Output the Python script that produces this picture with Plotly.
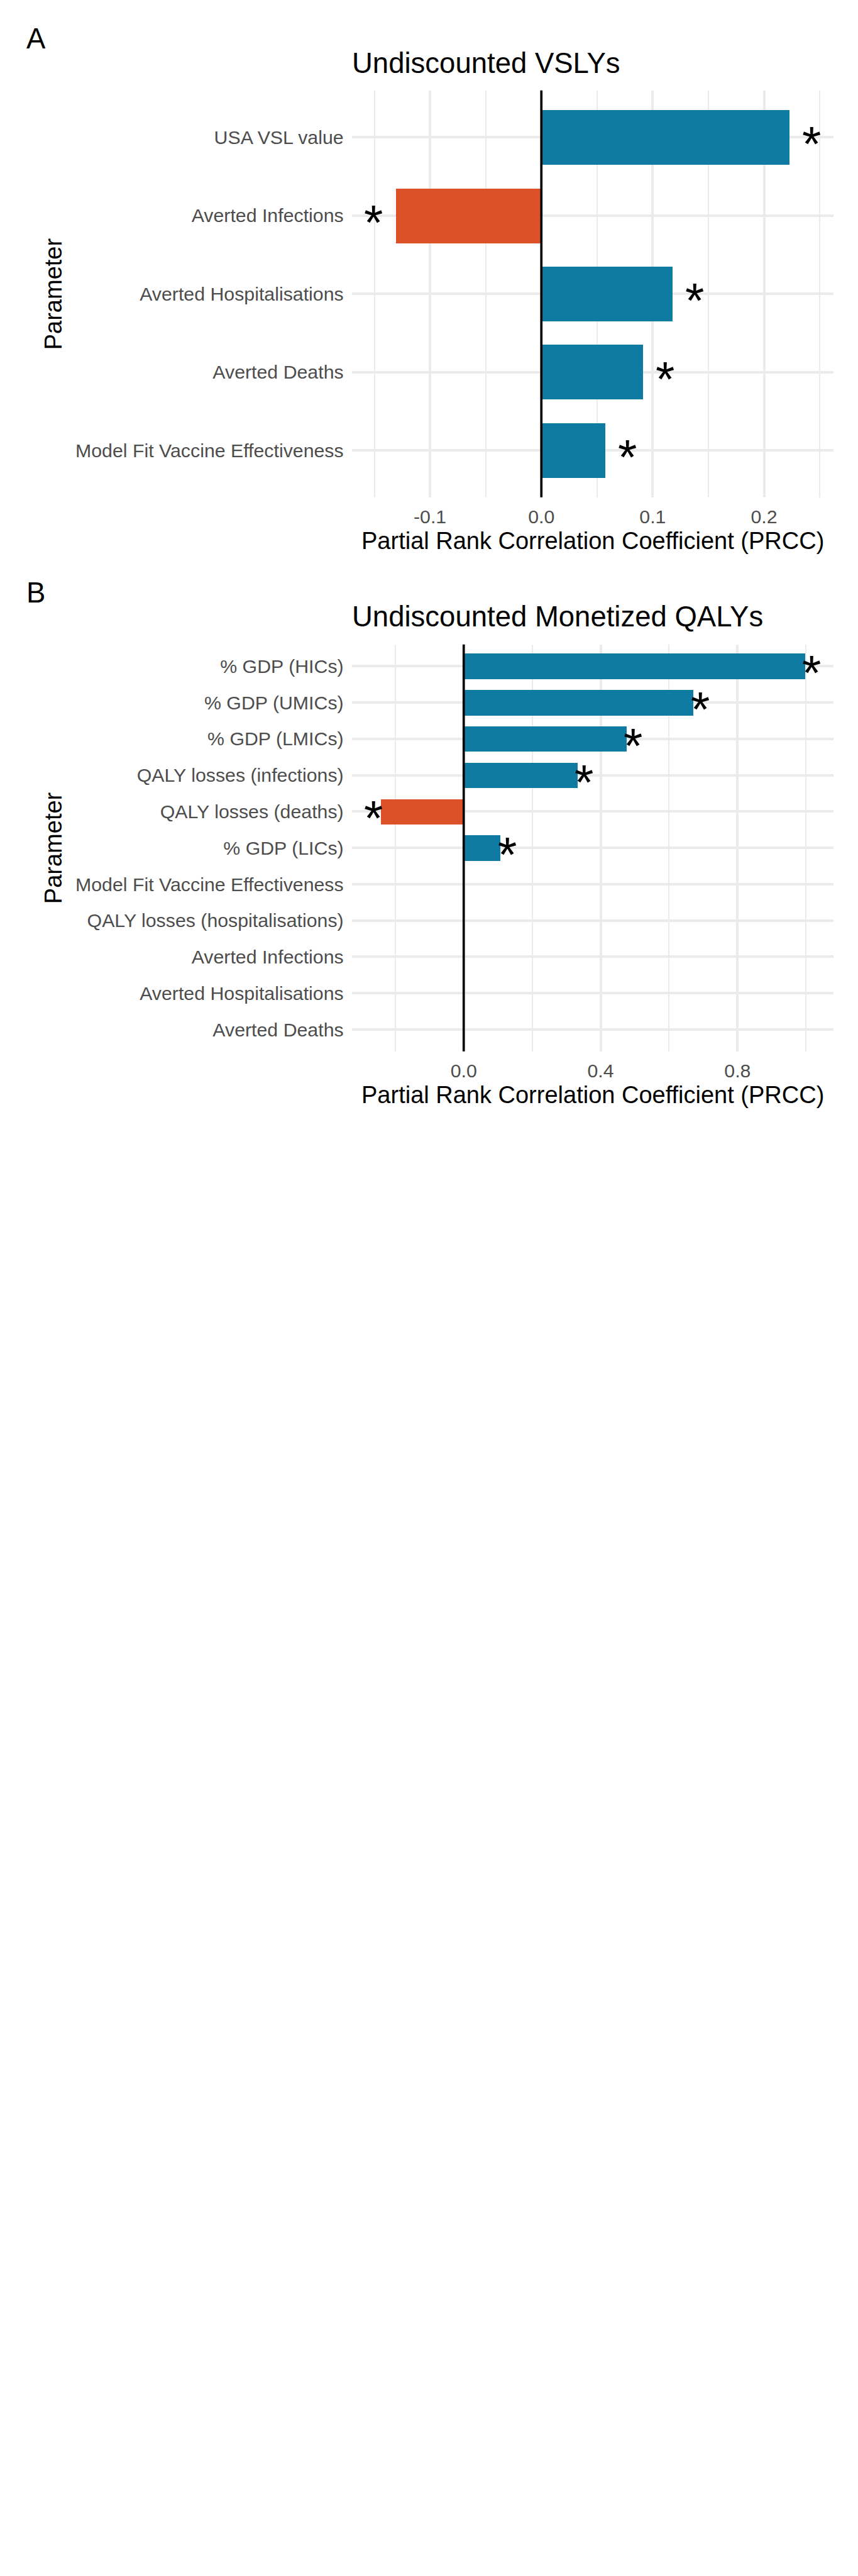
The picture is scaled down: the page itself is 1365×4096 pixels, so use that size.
import plotly.graph_objects as go

S = 0.91
W, H = 1365, 4096
FONT = "Liberation Sans, Arial, sans-serif"

# ---------------- data ----------------
a_title = "Undiscounted VSLYs"
a_params = ["USA VSL value", "Averted Infections", "Averted Hospitalisations",
            "Averted Deaths", "Model Fit Vaccine Effectiveness"]
a_prcc = [0.2226, -0.1306, 0.1178, 0.0912, 0.0574]
a_sig = [True, True, True, True, True]
a_xtickvals = [-0.1, 0.0, 0.1, 0.2]
a_xticktext = ["-0.1", "0.0", "0.1", "0.2"]

b_title = "Undiscounted Monetized QALYs"
b_params = ["% GDP (HICs)", "% GDP (UMICs)", "% GDP (LMICs)",
            "QALY losses (infections)", "QALY losses (deaths)", "% GDP (LICs)",
            "Model Fit Vaccine Effectiveness", "QALY losses (hospitalisations)",
            "Averted Infections", "Averted Hospitalisations", "Averted Deaths"]
b_prcc = [0.996, 0.670, 0.475, 0.332, -0.243, 0.107, -0.003, -0.001, 0.0, 0.0, 0.0]
b_sig = [True, True, True, True, True, True, False, False, False, False, False]
b_xtickvals = [0.0, 0.4, 0.8]
b_xticktext = ["0.0", "0.4", "0.8"]

x_title = "Partial Rank Correlation Coefficient (PRCC)"
y_title = "Parameter"
tags = ["A", "B"]

POS_COL = "#0F7BA2"
NEG_COL = "#DD5129"
GRID = "#EBEBEB"
STAR_OFF = 0.02

# ---------------- layout geometry (reference px, scaled) ----------------
def px(v):
    return v * S

def xf(v):
    return px(v) / W

def yf(v):
    return 1 - px(v) / H

PL, PR = 615, 1457
panels = [
    dict(top=158, bottom=869, tagy=67.5, titley=110, xty=945, minor=0.05,
         title=a_title, params=a_params, prcc=a_prcc, sig=a_sig,
         tv=a_xtickvals, tt=a_xticktext),
    dict(top=1126, bottom=1837, tagy=1035.5, titley=1077, xty=1913, minor=0.2,
         title=b_title, params=b_params, prcc=b_prcc, sig=b_sig,
         tv=b_xtickvals, tt=b_xticktext),
]

fig = go.Figure()
annotations = []
shapes = []

for i, p in enumerate(panels):
    k = "" if i == 0 else str(i + 1)
    xa, ya = "x" + k, "y" + k
    vals = p["prcc"]
    cols = [POS_COL if v >= 0 else NEG_COL for v in vals]
    fig.add_trace(go.Bar(
        x=vals, y=p["params"], orientation="h", width=0.7,
        marker=dict(color=cols, line=dict(width=0)),
        xaxis=xa, yaxis=ya, showlegend=False, hoverinfo="x+y"))

    star_x = [v + (STAR_OFF if v >= 0 else -STAR_OFF)
              for v, s in zip(vals, p["sig"]) if s]
    star_y = [c for c, s in zip(p["params"], p["sig"]) if s]
    for sx, sy in zip(star_x, star_y):
        annotations.append(dict(
            x=sx, y=sy, xref=xa, yref=ya, text="*", showarrow=False,
            xanchor="center", yanchor="middle", yshift=-11,
            font=dict(family=FONT, size=78, color="black")))

    pts = list(vals) + star_x
    lo, hi = min(pts), max(pts)
    pad = 0.05 * (hi - lo)
    n = len(p["params"])

    xaxis = dict(
        domain=[xf(PL), xf(PR)], anchor=ya, range=[lo - pad, hi + pad],
        tickmode="array", tickvals=p["tv"], ticktext=p["tt"],
        showgrid=True, gridcolor=GRID, gridwidth=px(4),
        zeroline=False, showline=False, ticks="",
        tickfont=dict(family=FONT, size=30.3, color="#4D4D4D"),
        ticklabelstandoff=10,
        minor=dict(dtick=p["minor"], tick0=0, showgrid=True,
                   gridcolor=GRID, gridwidth=px(2), ticks=""),
        fixedrange=True)
    yaxis = dict(
        domain=[yf(p["bottom"]), yf(p["top"])], anchor=xa,
        type="category", categoryorder="array", categoryarray=p["params"],
        range=[n - 0.4, -0.6],
        showgrid=True, gridcolor=GRID, gridwidth=px(4),
        zeroline=False, showline=False, ticks="",
        tickfont=dict(family=FONT, size=30.3, color="#4D4D4D"),
        ticklabelstandoff=12, fixedrange=True)
    fig.update_layout({"xaxis" + k: xaxis, "yaxis" + k: yaxis})

    shapes.append(dict(type="line", xref=xa, yref=ya + " domain",
                       x0=0, x1=0, y0=0, y1=1, layer="above",
                       line=dict(color="black", width=px(4))))

    # tag
    annotations.append(dict(
        x=px(44) / W, y=yf(p["tagy"]), xref="paper", yref="paper",
        text=tags[i], showarrow=False, xanchor="left", yanchor="middle",
        font=dict(family=FONT, size=45.5, color="black")))
    # title
    annotations.append(dict(
        x=px(613) / W, y=yf(p["titley"]), xref="paper", yref="paper",
        text=p["title"], showarrow=False, xanchor="left", yanchor="middle",
        font=dict(family=FONT, size=45.5, color="black")))
    # x title
    annotations.append(dict(
        x=xf((PL + PR) / 2), y=yf(p["xty"]), xref="paper", yref="paper",
        text=x_title, showarrow=False, xanchor="center", yanchor="middle",
        font=dict(family=FONT, size=38, color="black")))
    # y title
    annotations.append(dict(
        x=xf(93.4), y=yf((p["top"] + p["bottom"]) / 2), xref="paper", yref="paper",
        text=y_title, showarrow=False, textangle=-90,
        xanchor="center", yanchor="middle",
        font=dict(family=FONT, size=38, color="black")))

fig.update_layout(
    width=W, height=H, autosize=False,
    margin=dict(l=0, r=0, t=0, b=0, pad=0),
    paper_bgcolor="white", plot_bgcolor="white",
    annotations=annotations, shapes=shapes,
    bargap=0, showlegend=False,
    font=dict(family=FONT),
)

fig.write_html("out.html", config={"displayModeBar": False})
